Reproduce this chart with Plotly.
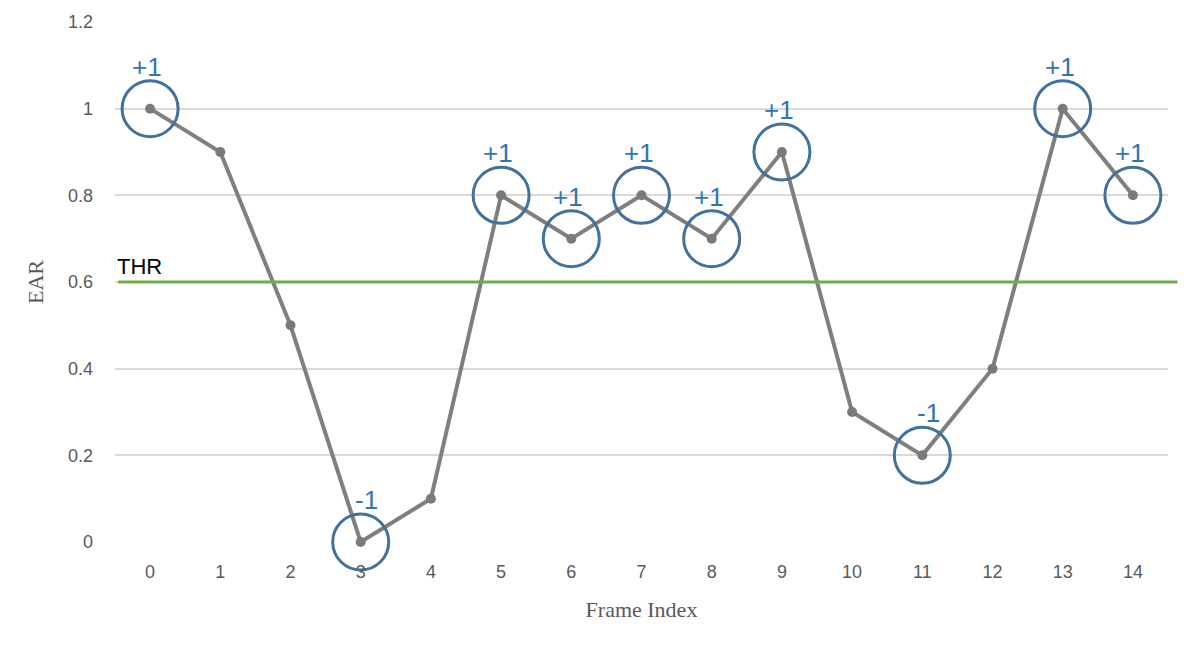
import plotly.graph_objects as go

# data
frames = list(range(15))
ear = [1.0, 0.9, 0.5, 0.0, 0.1, 0.8, 0.7, 0.8, 0.7, 0.9, 0.3, 0.2, 0.4, 1.0, 0.8]
marked_frames = [0, 3, 5, 6, 7, 8, 9, 11, 13, 14]
marked_labels = ["+1", "-1", "+1", "+1", "+1", "+1", "+1", "-1", "+1", "+1"]
threshold = 0.6
y_ticks = [0, 0.2, 0.4, 0.6, 0.8, 1, 1.2]

tick_font = dict(family="Liberation Sans", size=18, color="#595959")
title_font = dict(family="Liberation Serif", size=22, color="#595959")

fig = go.Figure()

# EAR series
fig.add_trace(go.Scatter(
    x=frames,
    y=ear,
    mode="lines+markers",
    line=dict(color="#7f7f7f", width=4),
    marker=dict(color="#7a7a7a", size=10),
    cliponaxis=False,
    showlegend=False
))

# circled frames
marked_y = [ear[f] for f in marked_frames]
fig.add_trace(go.Scatter(
    x=marked_frames,
    y=marked_y,
    mode="markers",
    marker=dict(symbol="circle-open", size=56, color="#41719c", line=dict(width=3, color="#41719c")),
    cliponaxis=False,
    showlegend=False
))

# +1 / -1 labels above the circles
for f, yv, lab in zip(marked_frames, marked_y, marked_labels):
    fig.add_annotation(
        x=f, y=yv, text=lab, showarrow=False,
        yshift=42, xshift=6 if lab == "-1" else -3,
        font=dict(family="Liberation Sans", size=26, color="#2e75b6")
    )

# threshold line
fig.add_shape(
    type="line", xref="paper", yref="y",
    x0=0.003, x1=1.009, y0=threshold, y1=threshold,
    line=dict(color="#70ad47", width=3)
)
fig.add_annotation(
    xref="paper", yref="y", x=0.0, y=threshold, text="THR",
    showarrow=False, xanchor="left", yanchor="bottom", yshift=1,
    font=dict(family="Liberation Sans", size=22, color="#000000")
)

# the page body adds 8px around the figure, so margins are trimmed by that
fig.update_layout(
    width=1196,
    height=657,
    margin=dict(l=107, r=36, t=14, b=123),
    plot_bgcolor="white",
    paper_bgcolor="white",
    xaxis=dict(
        range=[-0.5, 14.5],
        tickmode="array",
        tickvals=frames,
        ticktext=[str(f) for f in frames],
        showgrid=False,
        zeroline=False,
        showline=False,
        tickfont=tick_font,
        ticks="",
        ticklabelstandoff=17,
        automargin=False,
        title=dict(text="Frame Index", font=title_font, standoff=20)
    ),
    yaxis=dict(
        range=[0, 1.2],
        tickmode="array",
        tickvals=y_ticks,
        ticktext=["0", "0.2", "0.4", "0.6", "0.8", "1", "1.2"],
        showgrid=True,
        gridcolor="#d9d9d9",
        gridwidth=1.5,
        zeroline=False,
        tickfont=tick_font,
        ticklabelstandoff=21,
        automargin=False,
        title=dict(text="EAR", font=title_font, standoff=18)
    )
)

fig.write_html("out.html")
